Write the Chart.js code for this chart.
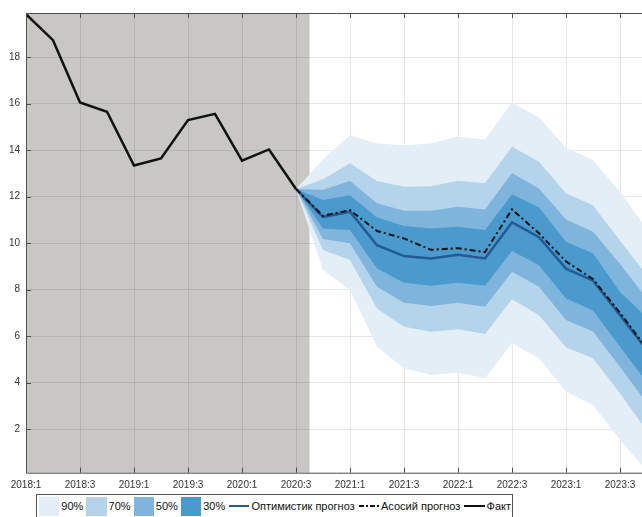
<!DOCTYPE html>
<html>
<head>
<meta charset="utf-8">
<script src="https://cdn.jsdelivr.net/npm/chart.js@4.4.1/dist/chart.umd.min.js"></script>
<style>
  html, body { margin: 0; padding: 0; background: #fff; overflow: hidden; width: 642px; height: 517px; }
  #wrap { position: relative; width: 660px; height: 517px; }
  #legend {
    position: absolute; left: 36px; top: 494px; width: 475px; height: 22px;
    border: 1px solid #555; background: #fff;
    font: 11px "Liberation Sans", Arial, sans-serif; color: #111;
    display: flex; align-items: center; white-space: nowrap;
  }
  #legend .sw { width: 24px; height: 19px; margin-left: 2px; margin-right: 2px; }
  #legend .ln { width: 24px; height: 0; margin-left: 3px; margin-right: 2px; }
  #legend svg { margin-left: 3px; margin-right: 2px; }
  #legend span.t { margin-right: 1px; }
</style>
</head>
<body>
<div id="wrap">
  <canvas id="chart" width="660" height="517"></canvas>
  <div id="legend">
    <div class="sw" style="background:#e4eef6"></div><span class="t">90%</span>
    <div class="sw" style="background:#b3d4ea"></div><span class="t">70%</span>
    <div class="sw" style="background:#7fb4dc"></div><span class="t">50%</span>
    <div class="sw" style="background:#4a9acd"></div><span class="t">30%</span>
    <div class="ln" style="border-top:2px solid #245a93"></div><span class="t">Оптимистик прогноз</span>
    <svg width="24" height="4"><line x1="0" y1="2" x2="24" y2="2" stroke="#111" stroke-width="2" stroke-dasharray="5,2,2,2"/></svg><span class="t">Асосий прогноз</span>
    <div class="ln" style="border-top:2px solid #111"></div><span class="t">Факт</span>
  </div>
</div>
<script>
// quarters on the x axis (index = position)
const quarters = ['2018:1','2018:2','2018:3','2018:4','2019:1','2019:2','2019:3','2019:4',
  '2020:1','2020:2','2020:3','2020:4','2021:1','2021:2','2021:3','2021:4',
  '2022:1','2022:2','2022:3','2022:4','2023:1','2023:2','2023:3','2023:4'];

// actual values 2018:1 .. 2020:3
const fact = [19.85, 18.73, 16.05, 15.65, 13.34, 13.64, 15.29, 15.56, 13.55, 14.03, 12.33];

// forecasts 2020:3 .. 2023:4
const forecastStart = 10;
const baseline   = [12.33, 11.17, 11.42, 10.52, 10.2, 9.71, 9.78, 9.61, 11.45, 10.42, 9.21, 8.45, 7.0, 5.45];
const optimistic = [12.33, 11.12, 11.35, 9.91, 9.44, 9.34, 9.5, 9.34, 10.89, 10.25, 8.9, 8.38, 6.9, 5.4];

// fan chart bands
const up90 = [12.33, 13.6, 14.64, 14.29, 14.21, 14.29, 14.57, 14.46, 16.05, 15.4, 14.1, 13.57, 12.2, 10.6];
const up70 = [12.33, 12.75, 13.43, 12.67, 12.42, 12.45, 12.68, 12.57, 14.14, 13.5, 12.14, 11.63, 10.1, 8.6];
const up50 = [12.33, 12.3, 12.67, 11.71, 11.39, 11.39, 11.56, 11.45, 13.02, 12.35, 11.02, 10.49, 9.1, 7.6];
const up30 = [12.33, 11.85, 12.06, 11.1, 10.73, 10.63, 10.7, 10.56, 12.1, 11.53, 10.06, 9.56, 7.9, 6.8];
const lo30 = [12.33, 10.63, 10.56, 8.91, 8.29, 8.16, 8.29, 8.16, 9.66, 9.05, 7.62, 7.1, 5.54, 4.0];
const lo50 = [12.33, 10.18, 9.99, 8.12, 7.43, 7.29, 7.43, 7.26, 8.77, 8.12, 6.69, 6.2, 4.68, 3.1];
const lo70 = [12.33, 9.7, 9.27, 7.19, 6.4, 6.19, 6.29, 6.09, 7.58, 6.9, 5.52, 5.04, 3.54, 1.9];
const lo90 = [12.33, 8.84, 7.98, 5.54, 4.61, 4.32, 4.42, 4.18, 5.69, 5.04, 3.6, 3.03, 1.53, 0.2];

const xTicks = [0, 2, 4, 6, 8, 10, 12, 14, 16, 18, 20, 22];
const yTicks = [2, 4, 6, 8, 10, 12, 14, 16, 18];
const historyEnd = 10.5; // grey shading ends here

const pts = (arr, start) => arr.map((v, i) => ({ x: start + i, y: v }));

const band = (upper, lower, color, order) => [
  { data: pts(upper, forecastStart), backgroundColor: color, borderWidth: 0, pointRadius: 0,
    fill: '+1', order: order, tension: 0 },
  { data: pts(lower, forecastStart), borderWidth: 0, pointRadius: 0, fill: false, order: order }
];

// grey history area
const shadePlugin = {
  id: 'shade',
  beforeDraw(chart) {
    const { ctx, chartArea, scales } = chart;
    const x1 = scales.x.getPixelForValue(historyEnd);
    ctx.save();
    ctx.fillStyle = '#c8c7c3';
    ctx.fillRect(chartArea.left, chartArea.top, x1 - chartArea.left, chartArea.bottom - chartArea.top);
    ctx.restore();
  }
};

// matlab-like box with inward ticks
const boxPlugin = {
  id: 'box',
  afterDraw(chart) {
    const { ctx, chartArea: a, scales } = chart;
    ctx.save();
    ctx.strokeStyle = '#4d4d4d';
    ctx.lineWidth = 1;
    ctx.beginPath();
    ctx.rect(a.left + 0.5, a.top + 0.5, a.right - a.left - 1, a.bottom - a.top);
    xTicks.forEach(v => {
      const x = Math.round(scales.x.getPixelForValue(v)) + 0.5;
      ctx.moveTo(x, a.bottom); ctx.lineTo(x, a.bottom - 5);
      ctx.moveTo(x, a.top); ctx.lineTo(x, a.top + 5);
    });
    yTicks.forEach(v => {
      const y = Math.round(scales.y.getPixelForValue(v)) + 0.5;
      ctx.moveTo(a.left, y); ctx.lineTo(a.left + 5, y);
      ctx.moveTo(a.right, y); ctx.lineTo(a.right - 5, y);
    });
    ctx.stroke();
    ctx.restore();
  }
};

new Chart(document.getElementById('chart'), {
  type: 'line',
  data: {
    datasets: [
      { label: 'Факт', data: pts(fact, 0), borderColor: '#111', borderWidth: 2.5,
        pointRadius: 0, fill: false, order: 0 },
      { label: 'Асосий прогноз', data: pts(baseline, forecastStart), borderColor: '#111', borderWidth: 2,
        borderDash: [6, 3, 2, 3], pointRadius: 0, fill: false, order: 1 },
      { label: 'Оптимистик прогноз', data: pts(optimistic, forecastStart), borderColor: '#245a93', borderWidth: 2.5,
        pointRadius: 0, fill: false, order: 2 },
      ...band(up30, lo30, '#4a9acd', 3),
      ...band(up50, lo50, '#7fb4dc', 4),
      ...band(up70, lo70, '#b3d4ea', 5),
      ...band(up90, lo90, '#e4eef6', 6)
    ]
  },
  options: {
    responsive: false,
    animation: false,
    layout: { padding: { top: 13, right: 13, left: 0, bottom: 0 } },
    plugins: { legend: { display: false }, tooltip: { enabled: false } },
    scales: {
      x: {
        type: 'linear', min: 0, max: 23,
        afterBuildTicks: s => { s.ticks = xTicks.map(v => ({ value: v })); },
        afterFit: s => { s.height = 44.3; },
        grid: { color: 'rgba(0,0,0,0.09)', drawTicks: false },
        border: { display: false },
        ticks: { padding: 7, color: '#333', font: { family: 'Liberation Sans', size: 10 },
          maxRotation: 0, autoSkip: false, callback: v => quarters[v] }
      },
      y: {
        min: 0.12, max: 19.9,
        afterBuildTicks: s => { s.ticks = yTicks.map(v => ({ value: v })); },
        afterFit: s => { s.width = 26; },
        grid: { color: 'rgba(0,0,0,0.09)', drawTicks: false },
        border: { display: false },
        ticks: { padding: 6, color: '#333', font: { family: 'Liberation Sans', size: 10 } }
      }
    }
  },
  plugins: [shadePlugin, boxPlugin]
});
</script>
</body>
</html>
